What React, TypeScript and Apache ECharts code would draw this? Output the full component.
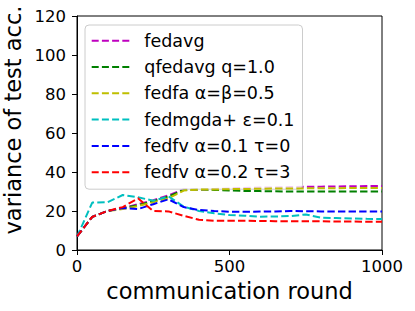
import React, { useEffect, useRef } from "react";
import * as echarts from "echarts";

const rounds = [0, 50, 100, 150, 200, 250, 300, 350, 400, 450, 500, 550, 600, 650, 700, 750, 800, 850, 900, 950, 1000];

const seriesNames = [
  "fedavg",
  "qfedavg q=1.0",
  "fedfa α=β=0.5",
  "fedmgda+ ε=0.1",
  "fedfv α=0.1 τ=0",
  "fedfv α=0.2 τ=3",
];

const fedavg = [7, 17, 20, 21.5, 23.5, 25.5, 28, 31.2, 31, 31.3, 31.6, 31.8, 32, 32.1, 32.3, 32.4, 32.5, 32.6, 32.7, 32.8, 32.8];
const qfedavg = [7, 17, 20, 21.5, 23, 25, 27.5, 30.8, 31, 30.8, 30.5, 30.3, 30.2, 30.1, 30, 30, 30, 30, 30, 30, 30];
const fedfa = [7, 17, 20, 21, 22.5, 24.5, 26.5, 30.5, 31, 31, 31.2, 31.3, 31.4, 31.5, 31.6, 31.6, 31.7, 31.7, 31.8, 31.8, 31.8];
const fedmgda = [6.8, 24.3, 24.5, 28.2, 27, 25.3, 27.5, 22.2, 20, 18.8, 17.9, 17.6, 17.1, 17.2, 17.4, 18.2, 16.6, 16.4, 16.2, 16, 15.9];
const fedfv01 = [7, 17, 20, 21.5, 21, 23.5, 26, 22, 20.5, 20, 19.6, 19.6, 19.7, 19.8, 20, 19.9, 19.8, 19.8, 19.8, 19.7, 19.7];
const fedfv02 = [7, 17, 20, 22, 26.5, 20, 19.8, 17.5, 15.5, 15, 15, 15, 14.9, 14.8, 14.8, 14.7, 14.7, 14.6, 14.6, 14.5, 14.5];

const allValues = [fedavg, qfedavg, fedfa, fedmgda, fedfv01, fedfv02];
const colors = ["#bf00bf", "#008000", "#bfbf00", "#00bfbf", "#0000ff", "#ff0000"];

const xTitle = "communication round";
const yTitle = "variance of test acc.";

const FONT = "DejaVu Sans";

export default function App() {
  const ref = useRef<HTMLDivElement>(null);
  useEffect(() => {
    if (!ref.current) return;
    const chart = echarts.init(ref.current, undefined, { renderer: "svg" });
    const dashIcon = "path://M0,0h7v2h-7z M10.2,0h7v2h-7z M20.4,0h7v2h-7z M30.6,0h7v2h-7z";
    chart.setOption({
      animation: false,
      backgroundColor: "#ffffff",
      grid: {
        left: 77,
        top: 16,
        width: 305,
        height: 234,
        show: true,
        borderColor: "#000",
        borderWidth: 1,
        backgroundColor: "transparent",
      },
      xAxis: {
        type: "value",
        min: 0,
        max: 1000,
        interval: 500,
        splitLine: { show: false },
        axisLine: { show: true, lineStyle: { color: "#000", width: 1 } },
        axisTick: { show: true, inside: false, length: 5, lineStyle: { color: "#000" } },
        axisLabel: {
          margin: 8,
          fontSize: 16.5,
          fontFamily: FONT,
          color: "#000",
          formatter: (v: number) => String(v),
        },
        name: xTitle,
        nameLocation: "middle",
        nameGap: 26,
        nameTextStyle: { fontSize: 22.5, fontFamily: FONT, color: "#000" },
      },
      yAxis: {
        type: "value",
        min: 0,
        max: 120,
        interval: 20,
        splitLine: { show: false },
        axisLine: { show: true, lineStyle: { color: "#000", width: 1 } },
        axisTick: { show: true, inside: false, length: 5, lineStyle: { color: "#000" } },
        axisLabel: { margin: 11, fontSize: 16.5, fontFamily: FONT, color: "#000" },
      },
      graphic: [
        {
          type: "text",
          x: 12.5,
          y: 120,
          rotation: Math.PI / 2,
          style: {
            text: yTitle,
            font: `22.5px "${FONT}"`,
            fill: "#000",
            textAlign: "center",
            textVerticalAlign: "middle",
          },
        },
      ],
      legend: {
        orient: "vertical",
        left: 85,
        top: 25,
        padding: [5.7, 8, 7, 6.7],
        itemGap: 6.3,
        itemWidth: 37.6,
        itemHeight: 2,
        icon: dashIcon,
        itemStyle: { borderWidth: 0 },
        backgroundColor: "rgba(255,255,255,0.8)",
        borderColor: "#cccccc",
        borderWidth: 1,
        borderRadius: 4,
        textStyle: {
          fontSize: 17.5,
          fontFamily: FONT,
          color: "#000",
          lineHeight: 20,
          padding: [0, 0, 0, 10],
        },
        data: seriesNames,
      },
      series: seriesNames.map((name, i) => ({
        name,
        type: "line",
        showSymbol: false,
        symbol: "none",
        data: rounds.map((r, j) => [r, allValues[i][j]]),
        color: colors[i],
        lineStyle: { color: colors[i], width: 2, type: [7.4, 3.2] },
        z: 2 + i,
      })),
    });
    return () => chart.dispose();
  }, []);
  return (
    <div
      ref={ref}
      style={{ position: "absolute", left: 0, top: 0, width: 415, height: 311 }}
    />
  );
}
